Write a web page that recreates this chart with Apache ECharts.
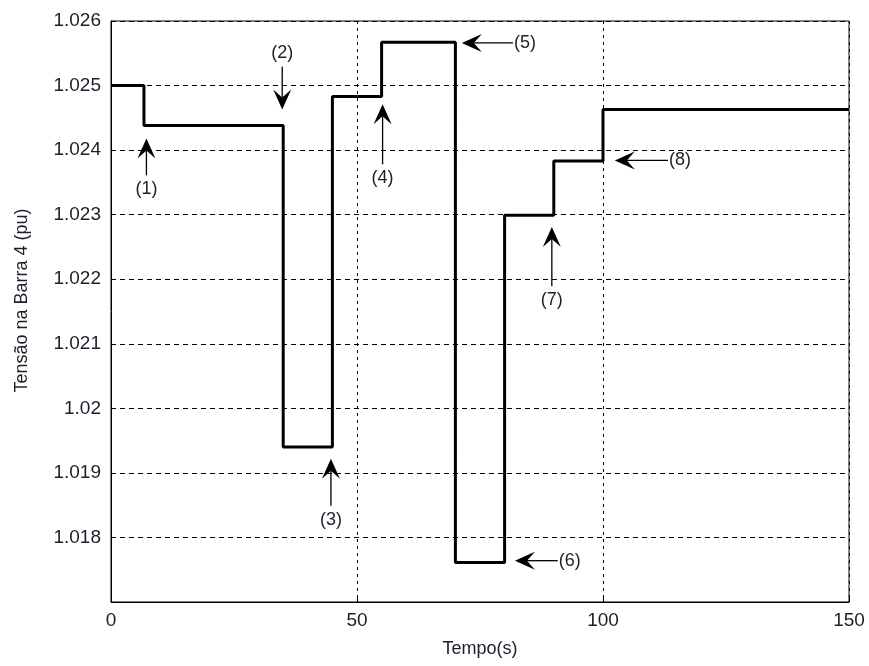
<!DOCTYPE html>
<html>
<head>
<meta charset="utf-8">
<script src="https://cdn.jsdelivr.net/npm/echarts@6/dist/echarts.min.js"></script>
<style>html,body{margin:0;padding:0;background:#fff}#c{width:869px;height:666px}</style>
</head>
<body>
<div id="c"></div>
<script>
// Data
const times  = [0, 6.7, 35, 45, 55, 70, 80, 90, 100, 150];
const values = [1.025, 1.02438, 1.0194, 1.02483, 1.02567, 1.01761, 1.02299, 1.02383, 1.02463, 1.02463];
const xTicks = [0, 50, 100, 150];
const yTicks = ['1.018','1.019','1.02','1.021','1.022','1.023','1.024','1.025','1.026'];
// Annotations
const annLabels = ['(1)','(2)','(3)','(4)','(5)','(6)','(7)','(8)'];
const annTipX   = [7.2, 34.8, 44.7, 55.2, 71.3, 82.1, 89.6, 102.4];
const annTipY   = [1.02418, 1.02463, 1.01922, 1.02471, 1.02566, 1.01764, 1.02281, 1.02384];
const annTailX  = [7.2, 34.8, 44.7, 55.2, 81.7, 90.8, 89.6, 113.2];
const annTailY  = [1.02361, 1.02529, 1.01849, 1.02378, 1.02566, 1.01764, 1.02189, 1.02384];

const lineData = times.map((t, i) => [t, values[i]]);
const annData = annLabels.map((l, i) => [annTipX[i], annTipY[i], annTailX[i], annTailY[i], l]);

const chart = echarts.init(document.getElementById('c'));
const font = 'Liberation Sans, Arial, sans-serif';
const txtColor = '#1e1e2a';
const fs = 18;

chart.setOption({
  animation: false,
  grid: { left: 111, right: 20, top: 21, bottom: 64, show: true, borderColor: '#000', borderWidth: 1, backgroundColor: 'transparent' },
  xAxis: {
    type: 'value', min: 0, max: 150, interval: 50,
    name: 'Tempo(s)', nameLocation: 'middle', nameGap: 38,
    nameTextStyle: { fontFamily: font, fontSize: fs, color: txtColor },
    axisLine: { show: true, lineStyle: { color: '#000', width: 1 } },
    axisTick: { show: true, inside: true, length: 5, lineStyle: { color: '#000' } },
    axisLabel: { fontFamily: font, fontSize: 19, color: txtColor, margin: 9,
      formatter: v => xTicks.includes(v) ? String(v) : '' },
    splitLine: { show: true, lineStyle: { color: '#000', width: 1, type: [3, 4] } }
  },
  yAxis: {
    type: 'value', min: 1.017, max: 1.026, interval: 0.001,
    name: 'Tensão na Barra 4 (pu)', nameLocation: 'middle', nameGap: 80,
    nameTextStyle: { fontFamily: font, fontSize: fs, color: txtColor, padding: [0, 0, 0, 22] },
    axisLine: { show: true, lineStyle: { color: '#000', width: 1 } },
    axisTick: { show: true, inside: true, length: 5, lineStyle: { color: '#000' } },
    axisLabel: { fontFamily: font, fontSize: 19, color: txtColor, margin: 10,
      formatter: v => { const s = String(parseFloat(v.toFixed(3))); return yTicks.includes(s) ? s : ''; } },
    splitLine: { show: true, lineStyle: { color: '#000', width: 1, type: [5, 4] } }
  },
  series: [
    {
      type: 'line', step: 'end', data: lineData, symbol: 'none',
      lineStyle: { color: '#000', width: 3 }, z: 5
    },
    {
      type: 'custom', data: annData, z: 6,
      renderItem: function (params, api) {
        const tip = api.coord([api.value(0), api.value(1)]);
        const tail = api.coord([api.value(2), api.value(3)]);
        const label = annData[params.dataIndex][4];
        const dx = tail[0] - tip[0], dy = tail[1] - tip[1];
        const len = Math.sqrt(dx * dx + dy * dy);
        const ux = dx / len, uy = dy / len;
        const px = -uy, py = ux;
        const hl = 20, hw = 9, notch = 12;
        const back = [tip[0] + ux * hl, tip[1] + uy * hl];
        const p1 = [back[0] + px * hw, back[1] + py * hw];
        const p2 = [back[0] - px * hw, back[1] - py * hw];
        const pn = [tip[0] + ux * notch, tip[1] + uy * notch];
        let lx, ly, align;
        if (Math.abs(ux) > 0.5) { lx = tail[0] + 1; ly = tail[1]; align = 'left'; }
        else { lx = tail[0]; ly = tail[1] + uy * 14; align = 'center'; }
        return {
          type: 'group',
          children: [
            { type: 'line', shape: { x1: pn[0], y1: pn[1], x2: tail[0], y2: tail[1] }, style: { stroke: '#000', lineWidth: 1.3 } },
            { type: 'polygon', shape: { points: [tip, p1, pn, p2] }, style: { fill: '#000' } },
            { type: 'text', x: lx, y: ly, style: { text: label, fontFamily: font, fontSize: fs, fill: txtColor, align: align, verticalAlign: 'middle' } }
          ]
        };
      }
    }
  ]
});
</script>
</body>
</html>
